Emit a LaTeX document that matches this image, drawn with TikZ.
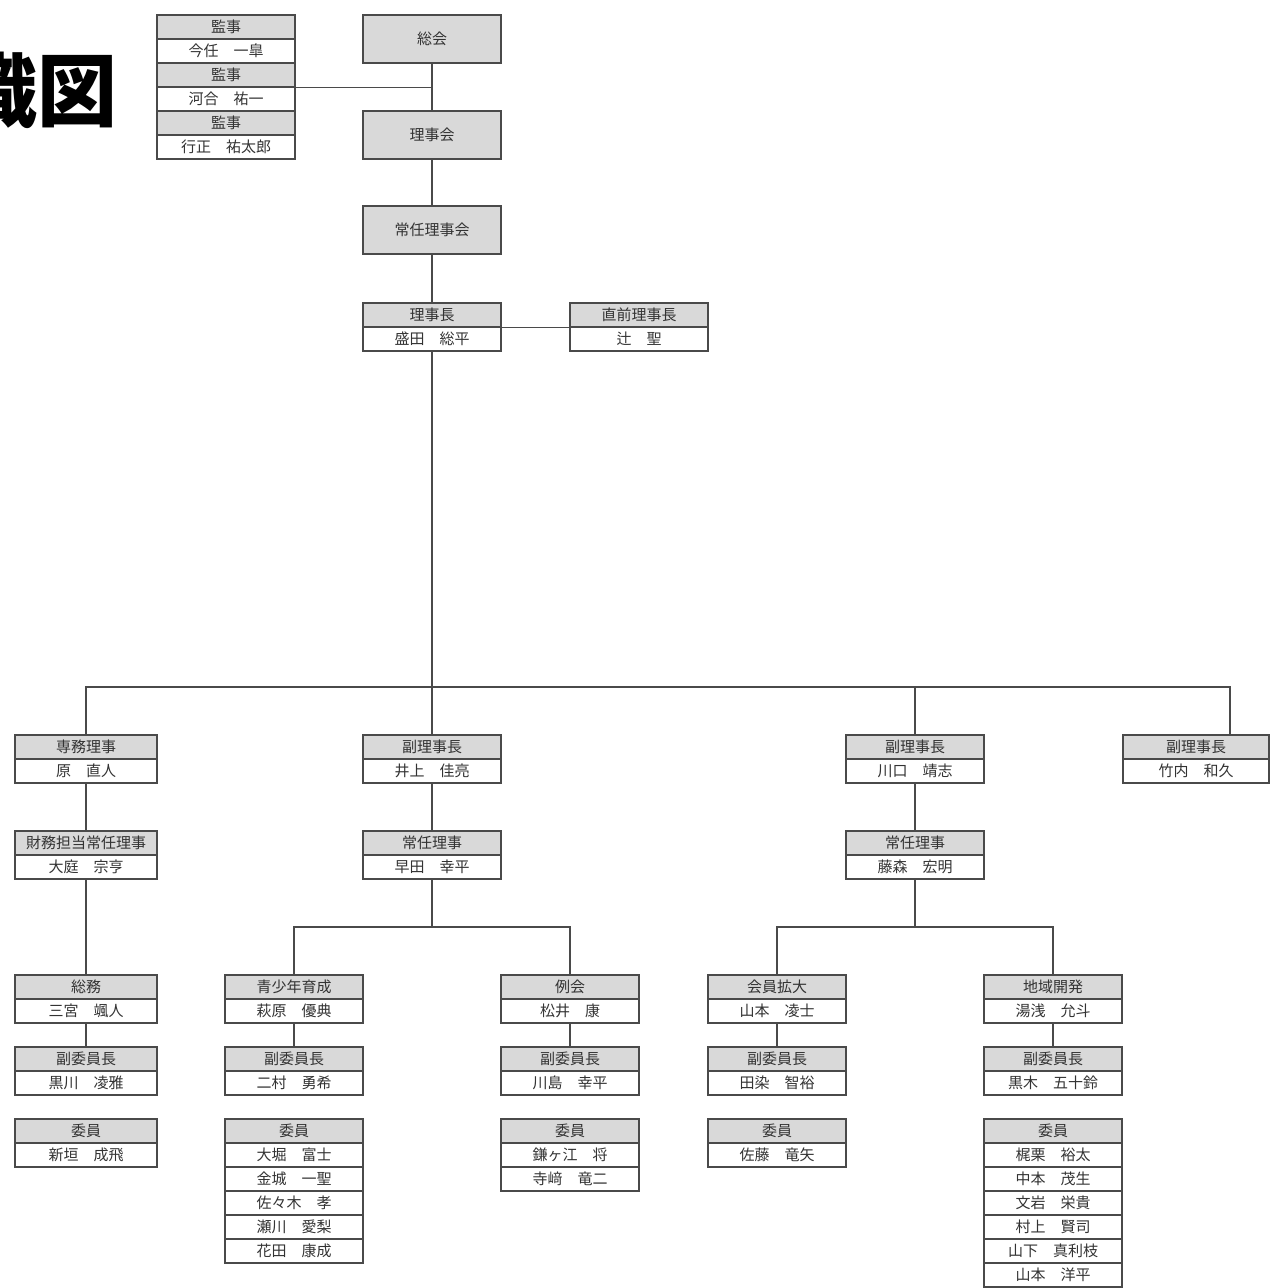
\documentclass[tikz,border=0pt]{standalone}
\usepackage{fontspec}
\newfontfamily\jp{Noto Sans CJK JP}
\definecolor{boxline}{HTML}{4A4A4A}
\definecolor{hdrgray}{HTML}{D9D9D9}
\definecolor{txtgray}{HTML}{333333}

\begin{document}
\begin{tikzpicture}[x=1pt,y=-1pt,
    line width=1.2pt,
    hdr/.style={draw=boxline, fill=hdrgray, minimum width=138pt, minimum height=24pt,
      inner sep=0pt, text=txtgray, font=\jp\fontsize{15}{15}\selectfont},
    nm/.style={hdr, fill=white},
    body/.style={hdr, minimum height=48pt},
    wide/.style={minimum width=142pt},
    link/.style={draw=boxline, line width=1.1pt}]

    \useasboundingbox (0,0) rectangle (1271,1288);

    % Title (cut at the left edge)
    \node[anchor=east, inner sep=0pt, font=\jp\bfseries\fontsize{80}{80}\selectfont] (title) at (118,90) {織図};

    % Auditors
    \node[hdr] (kanji1-t) at (226,27) {監事};
    \node[nm] (kanji1) at (226,51) {今任　一皐};
    \node[hdr] (kanji2-t) at (226,75) {監事};
    \node[nm] (kanji2) at (226,99) {河合　祐一};
    \node[hdr] (kanji3-t) at (226,123) {監事};
    \node[nm] (kanji3) at (226,147) {行正　祐太郎};

    % Assemblies
    \node[body] (sokai) at (432,39) {総会};
    \node[body] (rijikai) at (432,135) {理事会};
    \node[body] (joninkai) at (432,230) {常任理事会};

    % President and past president
    \node[hdr] (rijicho-t) at (432,315) {理事長};
    \node[nm] (rijicho) at (432,339) {盛田　総平};
    \node[hdr] (chokuzen-t) at (639,315) {直前理事長};
    \node[nm] (chokuzen) at (639,339) {辻　聖};

    \draw[link] (sokai) -- (rijikai);
    \draw[link] (rijikai) -- (joninkai);
    \draw[link] (joninkai) -- (rijicho-t);
    \draw[link] (kanji2-t.south east) -- (kanji2-t.south east -| sokai.south);
    \draw[link] (rijicho-t.south east) -- (chokuzen-t.south west);

    % Second level
    \node[hdr, wide] (senmu-t) at (86,747) {専務理事};
    \node[nm, wide] (senmu) at (86,771) {原　直人};
    \node[hdr] (inoue-t) at (432,747) {副理事長};
    \node[nm] (inoue) at (432,771) {井上　佳亮};
    \node[hdr] (kawaguchi-t) at (915,747) {副理事長};
    \node[nm] (kawaguchi) at (915,771) {川口　靖志};
    \node[hdr, minimum width=146pt] (takeuchi-t) at (1196,747) {副理事長};
    \node[nm, minimum width=146pt] (takeuchi) at (1196,771) {竹内　和久};

    % Bus under the president
    \coordinate (bus) at (432,687);
    \coordinate (takeuchi-c) at (1230,735);
    \draw[link] (rijicho) -- (bus);
    \draw[link] (senmu-t.north) |- (bus) -| (takeuchi-c);
    \draw[link] (bus) -- (inoue-t);
    \draw[link] (kawaguchi-t.north) -- (kawaguchi-t.north |- bus);

    % Third level
    \node[hdr, wide] (zaimu-t) at (86,843) {財務担当常任理事};
    \node[nm, wide] (zaimu) at (86,867) {大庭　宗亨};
    \node[hdr] (hayata-t) at (432,843) {常任理事};
    \node[nm] (hayata) at (432,867) {早田　幸平};
    \node[hdr] (fujimori-t) at (915,843) {常任理事};
    \node[nm] (fujimori) at (915,867) {藤森　宏明};

    \draw[link] (senmu) -- (zaimu-t);
    \draw[link] (inoue) -- (hayata-t);
    \draw[link] (kawaguchi) -- (fujimori-t);

    % Committees
    \node[hdr, wide] (somu-t) at (86,987) {総務};
    \node[nm, wide] (somu) at (86,1011) {三宮　颯人};
    \node[hdr] (seisho-t) at (294,987) {青少年育成};
    \node[nm] (seisho) at (294,1011) {萩原　優典};
    \node[hdr] (reikai-t) at (570,987) {例会};
    \node[nm] (reikai) at (570,1011) {松井　康};
    \node[hdr] (kakudai-t) at (777,987) {会員拡大};
    \node[nm] (kakudai) at (777,1011) {山本　凌士};
    \node[hdr] (chiiki-t) at (1053,987) {地域開発};
    \node[nm] (chiiki) at (1053,1011) {湯浅　允斗};

    \draw[link] (zaimu) -- (somu-t);
    \coordinate (split1) at (432,927);
    \coordinate (split2) at (915,927);
    \draw[link] (hayata) -- (split1);
    \draw[link] (seisho-t.north) |- (split1) -| (reikai-t.north);
    \draw[link] (fujimori) -- (split2);
    \draw[link] (kakudai-t.north) |- (split2) -| (chiiki-t.north);

    % Vice chairs
    \node[hdr, wide] (somu-v-t) at (86,1059) {副委員長};
    \node[nm, wide] (somu-v) at (86,1083) {黒川　凌雅};
    \node[hdr] (seisho-v-t) at (294,1059) {副委員長};
    \node[nm] (seisho-v) at (294,1083) {二村　勇希};
    \node[hdr] (reikai-v-t) at (570,1059) {副委員長};
    \node[nm] (reikai-v) at (570,1083) {川島　幸平};
    \node[hdr] (kakudai-v-t) at (777,1059) {副委員長};
    \node[nm] (kakudai-v) at (777,1083) {田染　智裕};
    \node[hdr] (chiiki-v-t) at (1053,1059) {副委員長};
    \node[nm] (chiiki-v) at (1053,1083) {黒木　五十鈴};

    \foreach \c in {somu,seisho,reikai,kakudai,chiiki}
        \draw[link] (\c) -- (\c-v-t);

    % Members
    \node[hdr, wide] (somu-m) at (86,1131) {委員};
    \node[nm, wide] (somu-m-1) at (86,1155) {新垣　成飛};

    \node[hdr] (seisho-m) at (294,1131) {委員};
    \foreach \n [count=\i] in {大堀　富士,金城　一聖,佐々木　孝,瀬川　愛梨,花田　康成}
        \node[nm] (seisho-m-\i) at (294,{1131+24*\i}) {\n};

    \node[hdr] (reikai-m) at (570,1131) {委員};
    \foreach \n [count=\i] in {鎌ヶ江　将,寺﨑　竜二}
        \node[nm] (reikai-m-\i) at (570,{1131+24*\i}) {\n};

    \node[hdr] (kakudai-m) at (777,1131) {委員};
    \node[nm] (kakudai-m-1) at (777,1155) {佐藤　竜矢};

    \node[hdr] (chiiki-m) at (1053,1131) {委員};
    \foreach \n [count=\i] in {梶栗　裕太,中本　茂生,文岩　栄貴,村上　賢司,山下　真利枝,山本　洋平}
        \node[nm] (chiiki-m-\i) at (1053,{1131+24*\i}) {\n};

\end{tikzpicture}
\end{document}
